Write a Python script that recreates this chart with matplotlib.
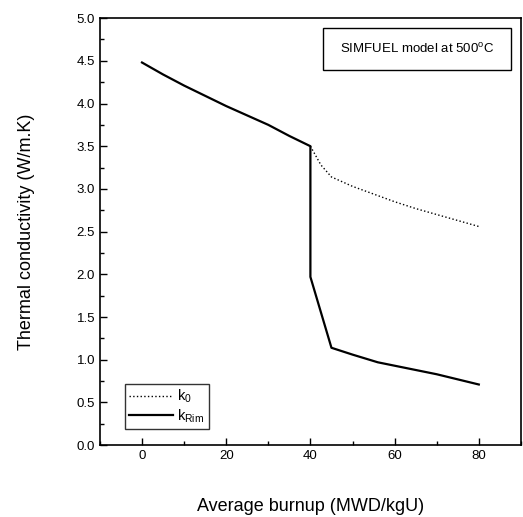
import matplotlib
matplotlib.use("Agg")
import matplotlib.pyplot as plt
from matplotlib.ticker import MultipleLocator, FormatStrFormatter
from matplotlib.patches import Rectangle

plt.rcParams['font.family'] = ['Liberation Sans', 'DejaVu Sans']
plt.rcParams['mathtext.fontset'] = 'custom'
plt.rcParams['mathtext.rm'] = 'Liberation Sans'
plt.rcParams['mathtext.it'] = 'Liberation Sans'

# solid line: k_Rim
burnup_rim = [0, 5, 10, 15, 20, 25, 30, 35, 40, 40, 45, 50, 56, 63, 70, 80]
k_rim = [4.48, 4.34, 4.21, 4.09, 3.97, 3.86, 3.75, 3.62, 3.50, 1.97, 1.14, 1.06, 0.97, 0.90, 0.83, 0.71]

# dotted line: k_0
burnup_0 = [40, 42.5, 45, 50, 55, 60, 65, 70, 75, 80]
k_0 = [3.50, 3.28, 3.14, 3.03, 2.94, 2.85, 2.77, 2.70, 2.63, 2.56]

fig = plt.figure(figsize=(5.23, 5.17), dpi=100)
ax = fig.add_axes([0.191, 0.139, 0.805, 0.826])

ax.plot(burnup_0, k_0, color='black', linestyle=':', linewidth=1.0, label=r'k$_{\rm 0}$')
ax.plot(burnup_rim, k_rim, color='black', linestyle='-', linewidth=1.6, label=r'k$_{\rm Rim}$')

ax.set_xlim(-10, 90)
ax.set_ylim(0, 5.0)
ax.xaxis.set_major_locator(MultipleLocator(20))
ax.xaxis.set_minor_locator(MultipleLocator(10))
ax.yaxis.set_major_locator(MultipleLocator(0.5))
ax.yaxis.set_minor_locator(MultipleLocator(0.25))
ax.yaxis.set_major_formatter(FormatStrFormatter('%.1f'))
ax.tick_params(which='both', direction='in', labelsize=9.5)
ax.tick_params(which='major', length=5, width=1)
ax.tick_params(which='minor', length=3, width=1)
for sp in ax.spines.values():
    sp.set_linewidth(1.2)

ax.set_xlabel('Average burnup (MWD/kgU)', fontsize=13, labelpad=26)
ax.set_ylabel('Thermal conductivity (W/m.K)', fontsize=13, labelpad=30)

leg = ax.legend(loc='lower left', bbox_to_anchor=(0.059, 0.037), fontsize=10.5,
                frameon=True, fancybox=False, edgecolor='black', handlelength=3.0,
                handletextpad=0.3, borderpad=0.3, labelspacing=0.15, borderaxespad=0)
leg.get_frame().set_linewidth(1.0)

ax.add_patch(Rectangle((0.530, 0.878), 0.446, 0.099, transform=ax.transAxes,
                       facecolor='white', edgecolor='black', linewidth=1.0))
ax.text(0.753, 0.927, r'SIMFUEL model at 500$^{\rm o}$C', transform=ax.transAxes,
        ha='center', va='center', fontsize=9.5)

fig.savefig('out.png', dpi=100)
